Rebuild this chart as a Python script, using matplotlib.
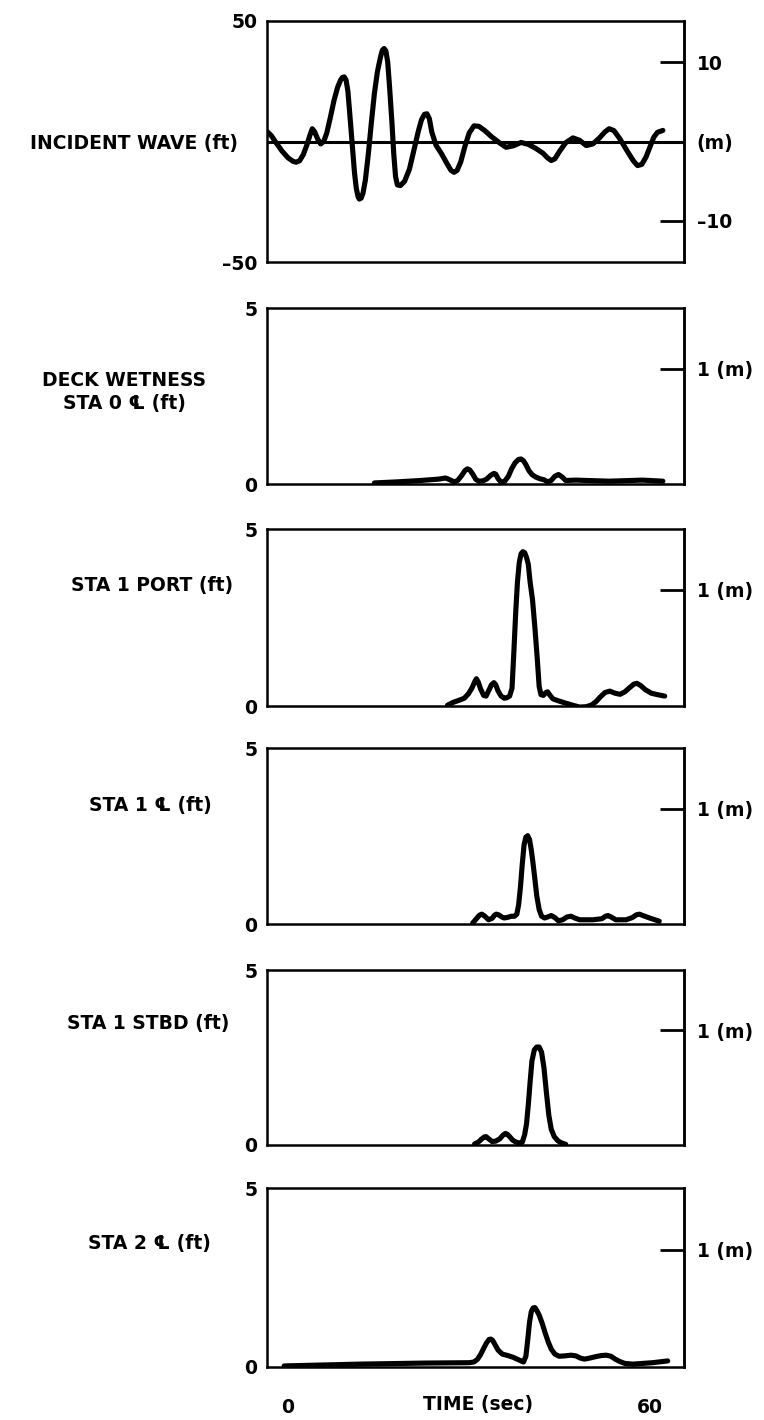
import matplotlib
matplotlib.use('Agg')
import matplotlib.pyplot as plt

W, H, DPI = 764, 1420, 100
FT_PER_M = 1 / 0.3048

# ---------------- data (time in sec, elevation in ft) ----------------
wave_t = [-3.4, -2.8, -2.0, -1.0, 0.0, 0.8, 1.3, 1.9, 2.5, 3.1, 3.6, 4.0, 4.4, 4.9, 5.4, 5.9,
          6.4, 7.0, 7.6, 8.2, 8.7, 9.0, 9.3, 9.6, 9.9, 10.2, 10.6, 11.0, 11.3, 11.6, 11.8, 12.1,
          12.4, 12.8, 13.3, 13.8, 14.3, 14.8, 15.3, 15.6, 15.9, 16.2, 16.5, 16.8, 17.2, 17.5,
          17.8, 18.1, 18.6, 19.3, 20.1, 20.9, 21.6, 22.1, 22.6, 23.0, 23.4, 23.8, 24.5, 25.4,
          26.4, 27.0, 27.5, 28.0, 28.6, 29.3, 30.0, 30.8, 31.6, 32.6, 33.7, 35.0, 36.1, 37.3,
          38.6, 39.8, 41.0, 42.2, 43.0, 43.6, 44.2, 45.0, 46.0, 47.2, 48.3, 49.4, 50.5, 51.6,
          52.5, 53.2, 54.0, 55.0, 56.2, 57.2, 57.9, 58.6, 59.3, 60.0, 60.6, 61.2, 62.1]
wave_ft = [3.9, 2.5, -0.5, -4.0, -6.8, -8.2, -8.6, -8.0, -5.5, -1.5, 2.5, 5.3, 4.0, 1.0, -1.0,
           0.0, 3.5, 10.0, 17.0, 22.5, 25.5, 26.6, 26.8, 25.5, 21.0, 12.0, -0.5, -13.0, -19.5,
           -23.0, -23.9, -23.5, -21.5, -16.0, -5.0, 8.0, 20.0, 29.0, 35.0, 37.8, 38.6, 37.6,
           33.0, 23.0, 8.0, -5.0, -14.5, -18.0, -18.3, -16.5, -11.5, -3.0, 4.5, 9.0, 11.3, 11.5,
           9.5, 4.0, -1.5, -5.0, -9.5, -12.0, -12.8, -12.0, -8.5, -2.0, 3.5, 6.5, 6.3, 4.5, 2.0,
           -0.5, -2.4, -1.8, -0.4, -1.2, -2.8, -4.8, -6.8, -7.9, -7.2, -4.0, -0.5, 1.5, 0.5,
           -1.7, -1.0, 1.5, 4.0, 5.3, 4.5, 1.0, -4.0, -8.0, -10.0, -9.5, -6.5, -2.0, 1.8, 3.8,
           4.6]

sta0_t = [14.3, 18.0, 22.0, 25.0, 26.1, 26.8, 27.5, 28.1, 28.8, 29.3, 29.7, 30.1, 30.6, 31.1,
          31.6, 32.3, 32.9, 33.6, 34.1, 34.4, 34.8, 35.3, 35.9, 36.5, 37.0, 37.6, 38.2, 38.6,
          39.0, 39.4, 39.9, 40.4, 41.0, 41.7, 42.4, 43.0, 43.6, 44.2, 44.8, 45.4, 46.0, 47.7,
          53.2, 58.7, 62.1]
sta0_ft = [0.03, 0.06, 0.10, 0.14, 0.17, 0.12, 0.06, 0.10, 0.25, 0.38, 0.43, 0.40, 0.28, 0.13,
           0.08, 0.09, 0.14, 0.25, 0.30, 0.28, 0.15, 0.05, 0.08, 0.22, 0.42, 0.60, 0.70, 0.71,
           0.66, 0.55, 0.38, 0.27, 0.20, 0.15, 0.12, 0.06, 0.10, 0.22, 0.27, 0.20, 0.10, 0.11,
           0.08, 0.11, 0.08]

sta1p_t = [26.4, 27.3, 28.3, 29.2, 29.9, 30.5, 30.9, 31.2, 31.5, 31.9, 32.4, 32.8, 33.2, 33.7,
           34.1, 34.4, 34.8, 35.3, 35.8, 36.2, 36.7, 37.1, 37.4, 37.7, 38.0, 38.3, 38.6, 38.9,
           39.2, 39.5, 39.8, 40.1, 40.5, 40.9, 41.3, 41.6, 41.9, 42.3, 42.7, 43.0, 43.4, 43.9,
           44.9, 46.0, 47.2, 48.3, 49.4, 50.3, 51.0, 51.7, 52.5, 53.3, 54.2, 55.0, 55.8, 56.6,
           57.3, 57.8, 58.4, 59.2, 60.2, 61.2, 62.4]
sta1p_ft = [0.02, 0.10, 0.16, 0.22, 0.35, 0.52, 0.68, 0.77, 0.68, 0.48, 0.30, 0.28, 0.42, 0.60,
            0.66, 0.60, 0.42, 0.28, 0.22, 0.23, 0.28, 0.50, 1.50, 2.60, 3.50, 4.05, 4.30, 4.36,
            4.33, 4.20, 4.00, 3.50, 3.00, 2.20, 1.30, 0.55, 0.32, 0.30, 0.38, 0.40, 0.30, 0.20,
            0.14, 0.08, 0.02, -0.03, -0.02, 0.03, 0.12, 0.25, 0.38, 0.42, 0.36, 0.33, 0.40, 0.52,
            0.62, 0.64, 0.58, 0.46, 0.36, 0.32, 0.28]

sta1c_t = [30.6, 31.2, 31.7, 32.1, 32.6, 33.2, 33.8, 34.2, 34.5, 34.9, 35.4, 35.8, 36.4, 37.0,
           37.5, 37.9, 38.2, 38.5, 38.8, 39.1, 39.4, 39.7, 40.0, 40.3, 40.6, 40.9, 41.2, 41.6,
           42.0, 42.5, 43.0, 43.6, 44.2, 44.8, 45.5, 46.2, 46.9, 47.5, 48.3, 50.5, 52.0, 52.6,
           53.0, 53.5, 54.3, 56.0, 57.0, 57.7, 58.2, 58.8, 59.9, 61.5]
sta1c_ft = [0.03, 0.15, 0.25, 0.28, 0.22, 0.12, 0.16, 0.25, 0.28, 0.26, 0.20, 0.17, 0.19, 0.22,
            0.22, 0.28, 0.55, 1.05, 1.70, 2.25, 2.47, 2.51, 2.40, 2.10, 1.70, 1.26, 0.80, 0.41,
            0.22, 0.17, 0.20, 0.24, 0.18, 0.09, 0.12, 0.20, 0.22, 0.17, 0.12, 0.12, 0.15, 0.22,
            0.24, 0.20, 0.12, 0.12, 0.18, 0.26, 0.28, 0.24, 0.17, 0.08]

sta1s_t = [30.9, 31.5, 32.0, 32.5, 32.8, 33.2, 33.8, 34.4, 35.1, 35.6, 36.0, 36.3, 36.7, 37.2,
           37.8, 38.4, 38.8, 39.2, 39.5, 39.8, 40.1, 40.4, 40.8, 41.2, 41.6, 42.0, 42.4, 42.8,
           43.2, 43.6, 44.1, 44.7, 45.3, 46.0]
sta1s_ft = [0.03, 0.08, 0.16, 0.23, 0.24, 0.18, 0.10, 0.11, 0.18, 0.28, 0.33, 0.31, 0.24, 0.14,
            0.08, 0.05, 0.08, 0.30, 0.60, 1.15, 1.80, 2.40, 2.72, 2.80, 2.80, 2.65, 2.20, 1.50,
            0.85, 0.45, 0.24, 0.12, 0.06, 0.02]

sta2c_t = [-0.66, 11.8, 22.8, 30.0, 30.8, 31.4, 31.9, 32.4, 32.9, 33.3, 33.6, 33.9, 34.3, 34.8,
           35.5, 36.4, 37.3, 38.2, 39.0, 39.4, 39.7, 40.0, 40.3, 40.6, 40.9, 41.2, 41.6, 42.1,
           42.6, 43.1, 43.6, 44.2, 44.9, 45.8, 46.9, 47.7, 48.4, 49.1, 50.0, 51.0, 51.9, 52.7,
           53.5, 54.2, 55.0, 55.8, 57.1, 60.4, 62.9]
sta2c_ft = [0.03, 0.08, 0.11, 0.12, 0.14, 0.22, 0.35, 0.52, 0.68, 0.77, 0.78, 0.74, 0.62, 0.47,
            0.36, 0.32, 0.27, 0.20, 0.14, 0.30, 0.75, 1.25, 1.55, 1.65, 1.66, 1.58, 1.45, 1.22,
            0.95, 0.70, 0.50, 0.36, 0.30, 0.31, 0.33, 0.31, 0.25, 0.22, 0.25, 0.29, 0.32, 0.33,
            0.30, 0.22, 0.15, 0.10, 0.08, 0.12, 0.17]

panel_labels = ["INCIDENT WAVE (ft)", "DECK WETNESS\nSTA 0 \u2104 (ft)", "STA 1 PORT (ft)",
                "STA 1 \u2104 (ft)", "STA 1 STBD (ft)", "STA 2 \u2104 (ft)"]
x_tick_labels = ["0", "60"]
x_ticks = [0, 60]
x_title = "TIME (sec)"

# ---------------- layout (pixels) ----------------
FONT = ['DejaVu Sans', 'Noto Sans']
plt.rcParams['font.family'] = FONT
plt.rcParams['font.weight'] = 'bold'
FS = 13.5

fig = plt.figure(figsize=(W / DPI, H / DPI), dpi=DPI)
fig.patch.set_facecolor('white')

left_px, right_px = 267, 684
panel_px = [(21, 262), (308, 484), (529, 706), (748, 924), (970, 1145), (1188, 1367)]
label_pos = [(238, 143, 'right'), (124, 392, 'center'), (152, 585, 'center'),
             (150, 805, 'center'), (148, 1023, 'center'), (149, 1243, 'center')]
series = [(wave_t, wave_ft), (sta0_t, sta0_ft), (sta1p_t, sta1p_ft), (sta1c_t, sta1c_ft),
          (sta1s_t, sta1s_ft), (sta2c_t, sta2c_ft)]

XLIM = (-3.5, 65.6)
LW_DATA = 3.7
LW_SPINE = 1.8

for i, ((top, bot), (t, v)) in enumerate(zip(panel_px, series)):
    ax = fig.add_axes([left_px / W, 1 - bot / H, (right_px - left_px) / W, (bot - top) / H])
    ax.plot(t, v, color='black', lw=LW_DATA, solid_capstyle='round', solid_joinstyle='round')
    ax.set_xlim(*XLIM)
    for s in ax.spines.values():
        s.set_linewidth(LW_SPINE)
    ax.tick_params(axis='y', left=False, right=False, length=0, pad=7, labelsize=FS)
    if i == 0:
        ax.set_ylim(-50, 50)
        ax.axhline(0, color='black', lw=2.2)
        ax.set_yticks([-50, 50], labels=['\u201350', '50'])
        sec = ax.secondary_yaxis('right', functions=(lambda f: f / FT_PER_M, lambda m: m * FT_PER_M))
        sec.set_yticks([10, 0, -10], labels=['10', '(m)', '\u201310'])
    else:
        ax.set_ylim(0, 5)
        ax.set_yticks([0, 5], labels=['0', '5'])
        sec = ax.secondary_yaxis('right', functions=(lambda f: f / FT_PER_M, lambda m: m * FT_PER_M))
        sec.set_yticks([1], labels=['1 (m)'])
    sec.tick_params(direction='in', length=17, width=2, pad=9, labelsize=FS)
    sec.spines['right'].set_linewidth(LW_SPINE)
    for lab in ax.get_yticklabels() + sec.get_yticklabels():
        lab.set_fontweight('bold')
    if i == len(panel_px) - 1:
        ax.set_xticks(x_ticks, labels=x_tick_labels)
        ax.tick_params(axis='x', length=0, pad=22, labelsize=FS)
        for lab in ax.get_xticklabels():
            lab.set_fontweight('bold')
        ax.set_xlabel(x_title, fontsize=FS, fontweight='bold')
        ax.xaxis.set_label_coords((478 - left_px) / (right_px - left_px),
                                  -(1395 - bot) / (bot - top))
    else:
        ax.set_xticks([])

    lx, ly, ha = label_pos[i]
    fig.text(lx / W, 1 - ly / H, panel_labels[i], ha=ha, va='center', fontsize=FS,
             fontweight='bold', multialignment='center', linespacing=1.25)

fig.savefig('out.png', dpi=DPI, facecolor='white')
